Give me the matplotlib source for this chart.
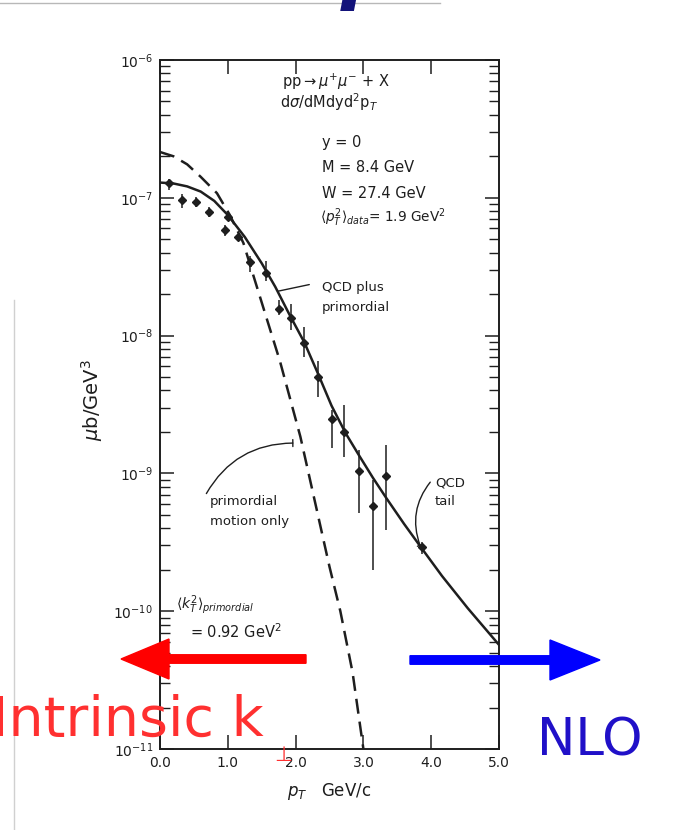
import numpy as np
import matplotlib
matplotlib.use("Agg")
import matplotlib.pyplot as plt
from matplotlib.patches import FancyArrow
from matplotlib.lines import Line2D
from matplotlib.ticker import LogLocator, FixedLocator, NullFormatter

plt.rcParams['font.family'] = ['DejaVu Sans']
plt.rcParams['mathtext.fontset'] = 'dejavusans'

# measured pT spectrum (GeV/c) and cross section (mub/GeV^3)
pt_data = [0.14, 0.33, 0.53, 0.73, 0.96, 1.00, 1.15, 1.33, 1.56, 1.76,
           1.93, 2.13, 2.33, 2.53, 2.72, 2.93, 3.14, 3.34, 3.86]
xs_data = [1.27e-7, 9.6e-8, 9.4e-8, 7.9e-8, 5.8e-8, 7.3e-8, 5.2e-8, 3.4e-8,
           2.86e-8, 1.55e-8, 1.34e-8, 8.8e-9, 5.0e-9, 2.5e-9, 2.0e-9,
           1.04e-9, 5.8e-10, 9.6e-10, 2.9e-10]
xs_lo = [1.13e-7, 8.4e-8, 8.6e-8, 7.2e-8, 5.3e-8, 6.9e-8, 4.9e-8, 2.9e-8,
         2.5e-8, 1.4e-8, 1.1e-8, 7.0e-9, 3.6e-9, 1.53e-9, 1.31e-9,
         5.2e-10, 2.0e-10, 3.9e-10, 2.6e-10]
xs_hi = [1.38e-7, 1.06e-7, 1.02e-7, 8.6e-8, 6.3e-8, 7.7e-8, 5.5e-8, 3.8e-8,
         3.5e-8, 1.8e-8, 1.7e-8, 1.15e-8, 6.5e-9, 2.9e-9, 3.13e-9,
         1.48e-9, 8.95e-10, 1.61e-9, 3.2e-10]

# QCD plus primordial (solid)
pt_qcd = [0.0, 0.2, 0.4, 0.6, 0.8, 1.0, 1.25, 1.5, 1.7, 1.9, 2.13, 2.33,
          2.53, 2.74, 2.94, 3.14, 3.34, 3.6, 3.86, 4.16, 4.54, 5.0]
xs_qcd = [1.29e-7, 1.27e-7, 1.21e-7, 1.11e-7, 9.5e-8, 7.5e-8, 5.2e-8, 3.35e-8,
          2.26e-8, 1.45e-8, 8.9e-9, 5.3e-9, 3.1e-9, 1.95e-9, 1.34e-9, 9.3e-10,
          6.6e-10, 4.3e-10, 2.86e-10, 1.8e-10, 1.05e-10, 5.7e-11]

# primordial motion only (dashed)
pt_prim = [0.0, 0.2, 0.4, 0.6, 0.84, 1.03, 1.23, 1.38, 1.55, 1.77, 2.07,
           2.31, 2.5, 2.66, 2.84, 3.0]
xs_prim = [2.15e-7, 2.0e-7, 1.75e-7, 1.42e-7, 1.08e-7, 7.5e-8, 4.7e-8, 2.7e-8,
           1.45e-8, 6.5e-9, 1.85e-9, 5.5e-10, 2.1e-10, 1.0e-10, 3.6e-11, 1.0e-11]

x_ticks = [0, 1, 2, 3, 4, 5]
x_ticklabels = ['0.0', '1.0', '2.0', '3.0', '4.0', '5.0']

ink = '#1e1e1e'

fig = plt.figure(figsize=(6.92, 8.30), dpi=100)
ax = fig.add_axes([160 / 692, 1 - 749 / 830, 339 / 692, 689 / 830])

ax.set_yscale('log')
ax.set_xlim(0, 5)
ax.set_ylim(1e-11, 1e-6)

ax.plot(pt_qcd, xs_qcd, color=ink, lw=1.8)
ax.plot(pt_prim, xs_prim, color=ink, lw=1.8, ls=(0, (6, 3.2)))

y = np.array(xs_data)
yerr = [y - np.array(xs_lo), np.array(xs_hi) - y]
ax.errorbar(pt_data, xs_data, yerr=yerr, fmt='D', ms=4, color=ink,
            elinewidth=1.1, capsize=0)

for s in ax.spines.values():
    s.set_linewidth(1.4)
    s.set_color(ink)

ax.xaxis.set_major_locator(FixedLocator(x_ticks))
ax.set_xticklabels(x_ticklabels)
ax.yaxis.set_major_locator(LogLocator(base=10, numticks=10))
ax.yaxis.set_minor_locator(LogLocator(base=10, subs=np.arange(2, 10), numticks=20))
ax.yaxis.set_minor_formatter(NullFormatter())
ax.tick_params(axis='both', which='major', direction='in', length=10, width=1.1,
               top=True, right=True, labelsize=10, colors=ink, pad=5)
ax.tick_params(axis='y', which='minor', direction='in', length=7, width=1.0,
               left=True, right=True, colors=ink)

ax.set_ylabel(r'$\mu$b/GeV$^3$', fontsize=14, color=ink)
ax.yaxis.set_label_coords((105 - 160) / 339, (749 - 400) / 689)
ax.set_xlabel(r'$p_T$   GeV/c', fontsize=12, color=ink, labelpad=8)


def px(xp, yp):
    return ((xp - 160) / 339, (749 - yp) / 689)


kw = dict(transform=ax.transAxes, color=ink, va='center', ha='left')
ax.text(*px(282, 82), r'pp$\rightarrow\mu^{+}\mu^{-}$ + X', fontsize=10.5, **kw)
ax.text(*px(280, 102), r'd$\sigma$/dMdyd$^2$p$_T$', fontsize=10.5, **kw)
ax.text(*px(322, 142), 'y = 0', fontsize=10.5, **kw)
ax.text(*px(322, 168), 'M = 8.4 GeV', fontsize=10.5, **kw)
ax.text(*px(322, 193), 'W = 27.4 GeV', fontsize=10.5, **kw)
ax.text(*px(320, 218), r'$\langle p_T^2\rangle_{data}$= 1.9 GeV$^2$', fontsize=9.8, **kw)
ax.text(*px(322, 287), 'QCD plus', fontsize=9.5, **kw)
ax.text(*px(322, 308), 'primordial', fontsize=9.5, **kw)
ax.text(*px(210, 501), 'primordial', fontsize=9.5, **kw)
ax.text(*px(210, 522), 'motion only', fontsize=9.5, **kw)
ax.text(*px(435, 483), 'QCD', fontsize=9.5, **kw)
ax.text(*px(435, 501), 'tail', fontsize=9.5, **kw)
ax.text(*px(176, 605), r'$\langle k_T^2\rangle_{primordial}$', fontsize=10, **kw)
ax.text(*px(190, 632), r'= 0.92 GeV$^2$', fontsize=10.5, **kw)

# leader lines to the curves
lead = dict(arrowstyle='-', color=ink, lw=1.0)
ax.annotate('', xy=(1.70, 2.08e-8), xytext=px(312, 284), textcoords='axes fraction',
            arrowprops=dict(lead))
ax.annotate('', xy=(2.0, 1.66e-9), xytext=px(205, 496), textcoords='axes fraction',
            arrowprops=dict(arrowstyle='-[, widthB=0.25, lengthB=0.0', color=ink,
                            lw=1.0, connectionstyle='arc3,rad=-0.3'))
ax.annotate('', xy=(3.85, 2.88e-10), xytext=px(432, 480), textcoords='axes fraction',
            arrowprops=dict(arrowstyle='-[, widthB=0.2, lengthB=0.0', color=ink,
                            lw=1.0, connectionstyle='arc3,rad=0.3'))

# slide leftovers: top rule, title descender, left frame edge
fig.add_artist(Line2D([0, 440 / 692], [1 - 3 / 830] * 2, color='#b8b8b8', lw=1.0,
                      transform=fig.transFigure))
fig.add_artist(Line2D([14 / 692] * 2, [0, 1 - 300 / 830], color='#d0d0d0', lw=1.0,
                      transform=fig.transFigure))
fig.text(341 / 692, 1 + 5 / 830, 'p', fontsize=56, fontstyle='italic',
         fontweight='bold', color='#12127a', va='baseline', ha='left')

# overlay arrows and labels (positions in inches from the lower left)
fig.patches.append(FancyArrow(3.06, 1.71, -1.85, 0, width=0.085, head_width=0.40,
                              head_length=0.48, length_includes_head=True,
                              color='#ff0000', transform=fig.dpi_scale_trans))
fig.patches.append(FancyArrow(4.10, 1.70, 1.90, 0, width=0.085, head_width=0.40,
                              head_length=0.50, length_includes_head=True,
                              color='#0000ff', transform=fig.dpi_scale_trans))

fig.text(-0.012, 1 - 721 / 830, 'Intrinsic k', fontsize=40, color='#ff3030',
         ha='left', va='center')
fig.text(283 / 692, 1 - 755 / 830, '\u22a5', fontsize=15, color='#ff3030',
         ha='center', va='center')
fig.text(590 / 692, 1 - 741 / 830, 'NLO', fontsize=37, color='#2010c8',
         ha='center', va='center')

fig.savefig('out.png', dpi=100)
